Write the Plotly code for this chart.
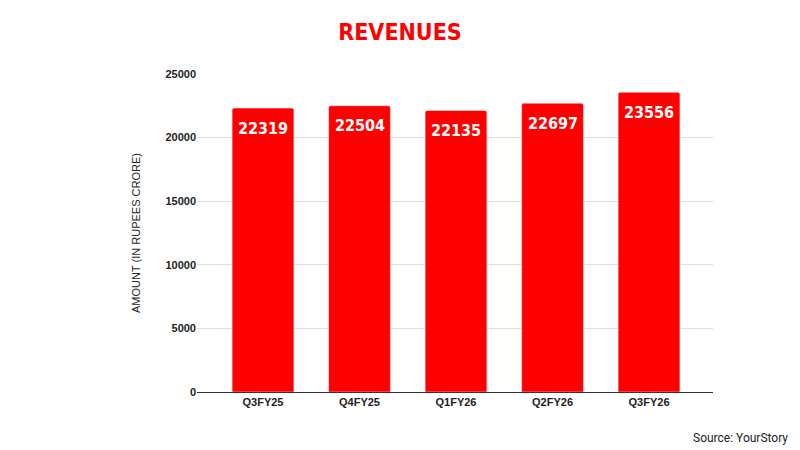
import plotly.graph_objects as go

categories = ["Q3FY25", "Q4FY25", "Q1FY26", "Q2FY26", "Q3FY26"]
revenues = [22319, 22504, 22135, 22697, 23556]
y_ticks = [0, 5000, 10000, 15000, 20000, 25000]

COND = "DejaVu Sans Condensed, Liberation Sans Narrow, sans-serif"

fig = go.Figure()
fig.add_trace(go.Bar(
    x=list(range(len(categories))),
    y=revenues,
    marker=dict(color="#ff0000", cornerradius=2),
    width=0.64,
    hoverinfo="skip",
))

annotations = [dict(x=i, y=v, xref="x", yref="y", text=f"<b>{v}</b>", showarrow=False,
                    yanchor="middle", yshift=-20,
                    font=dict(family=COND, size=16, color="white"))
               for i, v in enumerate(revenues)]
annotations.append(dict(text="Source: YourStory", xref="paper", yref="paper",
                        x=(790 - 197) / 516, y=-(438 - 392) / 318, xanchor="right", yanchor="middle",
                        showarrow=False, font=dict(family="Roboto, sans-serif", size=12, color="#222222")))

fig.update_layout(
    width=800, height=450,
    margin=dict(l=197, r=87, t=74, b=58),
    paper_bgcolor="white", plot_bgcolor="white",
    showlegend=False,
    title=dict(text="<b>REVENUES</b>", x=0.5, xanchor="center", y=0.928, yanchor="middle",
               font=dict(family=COND, size=23, color="#ff0000")),
    xaxis=dict(
        tickmode="array", tickvals=list(range(len(categories))), ticktext=[f"<b>{c}</b>" for c in categories],
        range=[-0.684, 4.663], showgrid=False, ticks="", showline=True, linecolor="#333333", linewidth=1,
        tickfont=dict(family="Arial, Liberation Sans, sans-serif", size=11, color="#222222"),
    ),
    yaxis=dict(
        range=[0, 25000], tickvals=y_ticks, ticktext=[f"<b>{t}</b>" for t in y_ticks],
        showgrid=True, gridcolor="#dddddd", gridwidth=1, zeroline=False, ticks="",
        tickfont=dict(family="Arial, Liberation Sans, sans-serif", size=11, color="#222222"),
        title=dict(text="AMOUNT (IN RUPEES CRORE)", standoff=22,
                   font=dict(family="Arial, Liberation Sans, sans-serif", size=11, color="#222222")),
    ),
    annotations=annotations,
)

fig.write_html("out.html")
